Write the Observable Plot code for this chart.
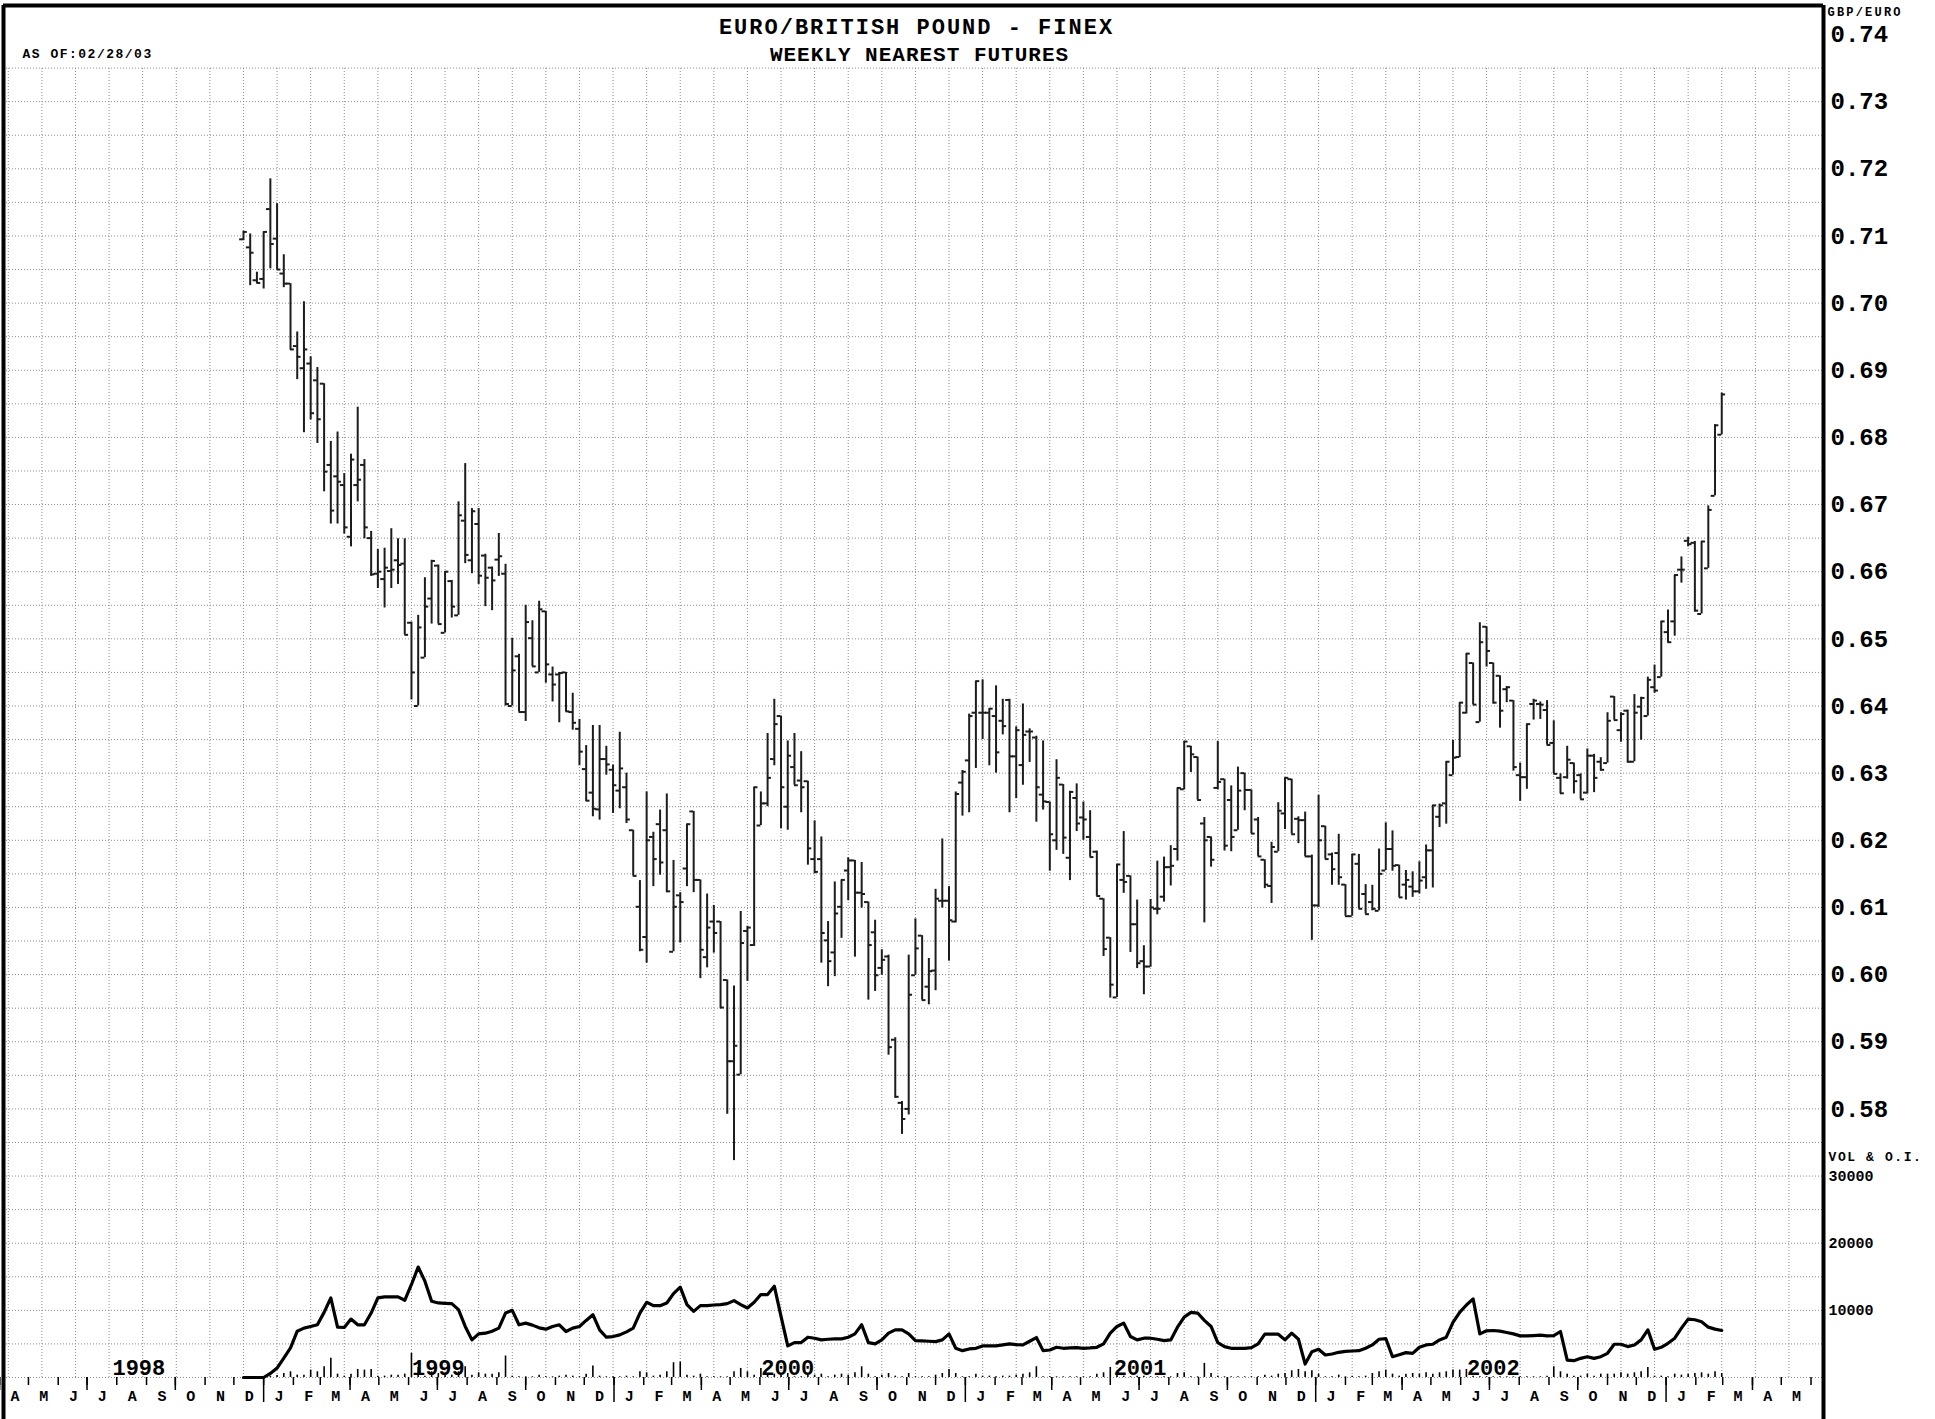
<!DOCTYPE html>
<html>
<head>
<meta charset="utf-8">
<script src="https://cdn.jsdelivr.net/npm/d3@7"></script>
<script src="https://cdn.jsdelivr.net/npm/@observablehq/plot@0.6"></script>
<style>
html, body { margin: 0; padding: 0; background: #fff; }
#chart { width: 1935px; height: 1419px; overflow: hidden; }
</style>
</head>
<body>
<div id="chart"></div>
<script>
// ---------------- DATA ----------------
const title = "EURO/BRITISH POUND - FINEX";
const subtitle = "WEEKLY NEAREST FUTURES";
const asOf = "AS OF:02/28/03";
const unitLabel = "GBP/EURO";
const volLabel = "VOL & O.I.";
const firstWeek = "1998-12-11";   // first weekly bar (Fridays)

const open = [.7095,.7083,.7034,.7036,.7140,.7096,.7044,.7029,.6936,.6903,
.6910,.6885,.6880,.6759,.6742,.6729,.6652,.6729,.6759,.6650,
.6597,.6589,.6601,.6617,.6612,.6524,.6400,.6472,.6560,.6609,
.6509,.6586,.6535,.6676,.6617,.6671,.6624,.6606,.6618,.6597,
.6400,.6474,.6391,.6501,.6450,.6541,.6447,.6447,.6450,.6391,
.6366,.6306,.6271,.6246,.6321,.6305,.6274,.6279,.6215,.6101,
.6056,.6205,.6224,.6215,.6034,.6118,.6158,.6243,.6141,.6026,
.6079,.6079,.5992,.5871,.5851,.6065,.6044,.6222,.6255,.6321,
.6385,.6250,.6309,.6289,.6288,.6172,.6172,.6051,.6033,.6101,
.6155,.6170,.6122,.6108,.6063,.6010,.6027,.5903,.5809,.5800,
.5999,.6058,.5982,.6006,.6110,.6110,.6079,.6286,.6319,.6390,
.6390,.6390,.6385,.6378,.6409,.6325,.6312,.6362,.6353,.6268,
.6257,.6200,.6283,.6174,.6263,.6234,.6205,.6183,.6113,.6055,
.5966,.6141,.6147,.6075,.6020,.6012,.6098,.6116,.6160,.6187,
.6276,.6340,.6324,.6225,.6205,.6278,.6291,.6260,.6215,.6300,
.6275,.6231,.6171,.6132,.6183,.6240,.6291,.6232,.6230,.6176,
.6103,.6221,.6179,.6181,.6134,.6087,.6165,.6120,.6108,.6095,
.6155,.6187,.6163,.6134,.6131,.6124,.6145,.6185,.6235,.6255,
.6297,.6324,.6390,.6464,.6376,.6518,.6464,.6445,.6425,.6408,
.6297,.6294,.6403,.6403,.6394,.6345,.6293,.6294,.6315,.6297,
.6271,.6326,.6317,.6315,.6414,.6364,.6393,.6317,.6399,.6385,
.6428,.6443,.6510,.6526,.6603,.6646,.6643,.6537,.6605,.6713,
.6804];

const high = [.7107,.7103,.7046,.7106,.7185,.7148,.7072,.7029,.6957,.7002,
.6920,.6904,.6880,.6794,.6808,.6746,.6775,.6845,.6767,.6660,
.6633,.6635,.6664,.6649,.6649,.6525,.6535,.6591,.6617,.6610,
.6600,.6587,.6704,.6761,.6694,.6694,.6626,.6607,.6657,.6611,
.6501,.6477,.6550,.6527,.6556,.6541,.6458,.6450,.6450,.6419,
.6380,.6341,.6371,.6371,.6340,.6312,.6361,.6300,.6215,.6140,
.6272,.6212,.6245,.6269,.6170,.6122,.6224,.6243,.6141,.6120,
.6103,.6079,.5992,.5983,.6094,.6072,.6279,.6272,.6359,.6410,
.6385,.6348,.6359,.6332,.6288,.6229,.6205,.6079,.6138,.6141,
.6174,.6170,.6167,.6108,.6081,.6037,.6029,.5906,.5811,.6029,
.6083,.6058,.6024,.6127,.6202,.6131,.6272,.6304,.6388,.6437,
.6439,.6396,.6430,.6410,.6410,.6369,.6403,.6366,.6355,.6348,
.6257,.6320,.6283,.6273,.6284,.6257,.6244,.6184,.6113,.6055,
.6164,.6213,.6147,.6111,.6043,.6112,.6169,.6175,.6192,.6278,
.6347,.6340,.6324,.6234,.6205,.6347,.6291,.6281,.6309,.6300,
.6275,.6234,.6171,.6197,.6256,.6293,.6291,.6235,.6242,.6178,
.6267,.6221,.6181,.6209,.6134,.6179,.6179,.6134,.6133,.6187,
.6226,.6214,.6163,.6155,.6153,.6168,.6193,.6252,.6254,.6317,
.6349,.6405,.6478,.6464,.6524,.6518,.6464,.6445,.6429,.6408,
.6315,.6373,.6410,.6406,.6408,.6378,.6299,.6340,.6315,.6299,
.6336,.6328,.6323,.6390,.6414,.6390,.6394,.6417,.6413,.6443,
.6461,.6526,.6543,.6595,.6622,.6651,.6645,.6645,.6698,.6819,
.6866];

const low = [.7093,.7026,.7029,.7021,.7051,.7050,.7023,.6930,.6886,.6807,
.6826,.6791,.6719,.6671,.6671,.6656,.6637,.6704,.6649,.6593,
.6575,.6546,.6575,.6581,.6506,.6409,.6400,.6472,.6522,.6522,
.6509,.6531,.6535,.6612,.6597,.6581,.6548,.6542,.6593,.6400,
.6400,.6391,.6377,.6459,.6450,.6434,.6406,.6375,.6391,.6364,
.6311,.6258,.6235,.6230,.6297,.6240,.6247,.6225,.6147,.6034,
.6017,.6131,.6148,.6122,.6034,.6047,.6131,.6122,.5994,.6010,
.6032,.5949,.5792,.5723,.5851,.5990,.6042,.6222,.6250,.6311,
.6217,.6215,.6282,.6241,.6163,.6150,.6017,.5982,.5997,.6054,
.6110,.6026,.6099,.5962,.5975,.5999,.5880,.5816,.5762,.5791,
.5999,.5962,.5955,.5976,.6099,.6020,.6077,.6236,.6241,.6307,
.6350,.6311,.6300,.6357,.6241,.6262,.6282,.6316,.6227,.6245,
.6154,.6185,.6179,.6140,.6213,.6200,.6175,.6117,.6027,.5965,
.5966,.6121,.6033,.6009,.5970,.6011,.6089,.6108,.6132,.6169,
.6275,.6301,.6260,.6077,.6160,.6275,.6184,.6183,.6215,.6244,
.6210,.6176,.6128,.6106,.6183,.6216,.6209,.6195,.6176,.6051,
.6100,.6172,.6133,.6133,.6087,.6087,.6098,.6090,.6095,.6095,
.6155,.6154,.6115,.6111,.6115,.6120,.6127,.6129,.6219,.6224,
.6297,.6323,.6388,.6402,.6376,.6458,.6403,.6367,.6405,.6303,
.6258,.6276,.6379,.6380,.6342,.6299,.6269,.6291,.6269,.6261,
.6269,.6271,.6303,.6315,.6379,.6346,.6315,.6317,.6349,.6385,
.6419,.6443,.6494,.6504,.6583,.6637,.6540,.6537,.6605,.6713,
.6804];

const close = [.7106,.7075,.7030,.7106,.7088,.7050,.7029,.6931,.6920,.6931,
.6836,.6827,.6749,.6691,.6734,.6666,.6767,.6737,.6666,.6596,
.6600,.6606,.6603,.6610,.6506,.6450,.6517,.6548,.6616,.6522,
.6600,.6548,.6684,.6625,.6690,.6594,.6591,.6587,.6623,.6403,
.6453,.6391,.6525,.6459,.6544,.6462,.6432,.6449,.6392,.6375,
.6332,.6259,.6247,.6321,.6313,.6282,.6307,.6231,.6147,.6037,
.6200,.6172,.6167,.6124,.6101,.6108,.6224,.6141,.6037,.6070,
.6062,.5951,.5871,.5894,.6047,.6070,.6279,.6255,.6293,.6373,
.6279,.6326,.6282,.6279,.6188,.6153,.6062,.6020,.6091,.6141,
.6170,.6122,.6120,.6044,.5999,.6022,.5892,.5818,.5785,.5970,
.6039,.5962,.6005,.6113,.6110,.6081,.6269,.6302,.6385,.6437,
.6390,.6396,.6331,.6370,.6325,.6364,.6357,.6362,.6279,.6258,
.6209,.6293,.6204,.6272,.6225,.6231,.6175,.6117,.6038,.5985,
.6164,.6138,.6075,.6017,.6012,.6100,.6098,.6160,.6162,.6278,
.6347,.6328,.6260,.6200,.6171,.6287,.6192,.6205,.6274,.6275,
.6210,.6176,.6134,.6190,.6244,.6293,.6209,.6230,.6176,.6103,
.6200,.6172,.6157,.6145,.6087,.6179,.6098,.6090,.6098,.6150,
.6187,.6162,.6115,.6141,.6124,.6140,.6185,.6252,.6252,.6317,
.6323,.6405,.6478,.6402,.6495,.6482,.6405,.6393,.6428,.6309,
.6294,.6373,.6408,.6402,.6342,.6299,.6270,.6320,.6288,.6261,
.6326,.6293,.6305,.6378,.6379,.6388,.6317,.6390,.6412,.6439,
.6423,.6526,.6495,.6595,.6603,.6641,.6542,.6645,.6692,.6818,
.6864];

const openInterest = [0,0,0,0,600,1400,2900,4400,6900,7350,
7600,7850,9700,11850,7500,7450,8700,7850,7850,9600,
11850,12000,12000,12000,11500,13850,16450,14350,11350,11100,
11050,11000,10100,7600,5600,6500,6600,6900,7350,9600,
10000,7850,8100,7800,7400,7200,7600,7850,6850,7350,
7600,8500,9350,7100,6000,6100,6350,6800,7350,9600,
11200,10700,10700,11100,12500,13450,10850,9850,10700,10700,
10800,10850,11000,11450,10850,10350,11200,12350,12350,13600,
9100,4700,5200,5200,6000,5850,5600,5700,5750,5750,
6000,6500,7850,5200,5000,5600,6600,7100,7100,6500,
5500,5450,5400,5350,5600,6500,4350,4000,4250,4350,
4700,4700,4700,4850,5000,4900,4850,5400,5950,4000,
4100,4500,4350,4400,4450,4350,4400,4500,5000,6600,
7600,8100,6100,5600,5850,5850,5700,5500,5600,7500,
9000,9700,9600,8500,7600,5200,4600,4350,4350,4350,
4450,5000,6450,6450,6450,5600,6600,5700,2000,3850,
4200,3350,3500,3750,3900,3950,4000,4350,4850,5700,
5800,3100,3400,3700,3600,4500,4850,4950,5600,6000,
8200,9700,10800,11700,6500,6950,7000,6900,6700,6500,
6200,6200,6250,6300,6200,6250,6850,2600,2500,2850,
3100,2850,3100,3600,4950,4950,4600,4850,5600,7100,
4200,4500,5100,5850,7350,8700,8600,8300,7500,7200,
7000];

const volume = [0,0,0,100,200,300,600,850,350,350,
1100,850,1600,2850,500,200,500,1200,1100,1200,
200,200,350,350,500,3600,1500,200,850,600,
500,350,850,1600,350,700,500,500,700,3200,
200,100,100,100,350,100,100,200,350,200,
100,500,1700,200,100,100,100,200,100,850,
700,200,350,850,2200,2300,350,200,500,100,
100,100,100,850,1350,850,350,1350,400,500,
300,600,100,100,350,350,500,100,350,500,
350,700,1600,500,100,350,600,200,100,600,
100,100,100,350,600,1200,600,100,100,500,
200,200,100,200,200,350,500,700,1600,100,
100,100,100,100,100,100,100,500,700,1500,
600,200,100,200,200,100,100,100,100,600,
700,100,100,2100,600,200,100,100,100,100,
100,100,350,200,500,600,1000,1200,850,1000,
500,100,100,350,100,200,100,200,600,850,
1100,500,200,500,600,500,700,500,700,850,
1100,1100,1200,200,100,100,100,100,100,100,
100,100,100,100,200,1600,850,500,200,200,
500,200,500,500,500,700,500,700,850,1500,
200,200,100,500,350,500,600,700,500,850,
600];

const priceTicks = [0.58,0.59,0.60,0.61,0.62,0.63,0.64,0.65,0.66,0.67,0.68,0.69,0.70,0.71,0.72,0.73,0.74];
const volumeTicks = [10000, 20000, 30000];
const yearLabels = ["1998", "1999", "2000", "2001", "2002"];
const yearLabelDates = ["1998-08-24", "1999-07-02", "2000-06-30", "2001-07-02", "2002-07-05"];
const monthInitials = ["J","F","M","A","M","J","J","A","S","O","N","D"];

// ---------------- BUILD ----------------
const t0 = new Date(firstWeek + "T00:00:00Z");
const bars = open.map((o, i) => ({
  date: d3.utcDay.offset(t0, 7 * i),
  open: o, high: high[i], low: low[i], close: close[i],
  oi: openInterest[i], vol: volume[i]
}));

// the price scale also carries the volume / open-interest panel:
// 0 contracts sits on 0.54 and 10000 contracts equal 0.01
const volBase = 0.54;
const volToY = v => volBase + v / 1e6;

const xDomain = [new Date("1998-04-05T00:00:00Z"), new Date("2003-06-14T00:00:00Z")];
const H = 1419, W = 1935, mTop = 5, mBottom = 42, mLeft = 3, mRight = 112;
const y074px = 34; // pixel row of the 0.74 label
const yTop = 0.54 + 0.2 * ((H - mBottom) - mTop) / ((H - mBottom) - y074px);

const gridPrices = d3.range(108, 148).map(k => +(k * 0.005).toFixed(3));
const gridDates = d3.range(-7, 48).map(k => d3.utcDay.offset(t0, 35 * k));

const months = d3.utcMonth.range(new Date("1998-04-01T00:00:00Z"), new Date("2003-06-02T00:00:00Z"));
const monthMids = months.filter(d => d < new Date("2003-06-01T00:00:00Z")).map(d => d3.utcDay.offset(d, 16));
const quarterStarts = months.filter(d => d.getUTCMonth() % 3 === 0 && d.getUTCMonth() !== 0);
const yearStarts = months.filter(d => d.getUTCMonth() === 0);

const fontFamily = "'Liberation Mono','Courier New',Courier,monospace";
const grid = {stroke: "#8c8c8c", strokeWidth: 1, strokeDasharray: "1,2"};
const barStroke = "#1c1c1c";
const tickLen = 96; // hours

const svg = Plot.plot({
  width: W, height: H,
  marginTop: mTop, marginBottom: mBottom, marginLeft: mLeft, marginRight: mRight,
  style: {fontFamily, fontWeight: "bold", background: "white", color: "black"},
  x: {type: "utc", domain: xDomain, label: null},
  y: {domain: [volBase, yTop], label: null},
  marks: [
    // grid
    Plot.ruleY(gridPrices, grid),
    Plot.ruleX(gridDates, {y1: volBase, y2: 0.735, ...grid}),
    // volume histogram
    Plot.ruleX(bars.filter(d => d.vol > 0), {x: "date", y1: volBase, y2: d => volToY(d.vol), stroke: "black", strokeWidth: 1.6}),
    // open interest line
    Plot.line(bars, {x: "date", y: d => volToY(d.oi), stroke: "black", strokeWidth: 3.2, strokeLinejoin: "round"}),
    // OHLC bars
    Plot.ruleX(bars, {x: "date", y1: "low", y2: "high", stroke: barStroke, strokeWidth: 2}),
    Plot.ruleY(bars, {y: "open", x1: d => d3.utcHour.offset(d.date, -tickLen), x2: "date", stroke: barStroke, strokeWidth: 2}),
    Plot.ruleY(bars, {y: "close", x1: "date", x2: d => d3.utcHour.offset(d.date, tickLen), stroke: barStroke, strokeWidth: 2}),
    // right axis: prices
    Plot.axisY({anchor: "right", ticks: priceTicks, tickSize: 0, tickPadding: 7, tickFormat: d3.format(".2f"), fontSize: 24, label: null}),
    // right axis: volume & open interest
    Plot.axisY({anchor: "right", ticks: volumeTicks.map(volToY), tickSize: 0, tickPadding: 5,
      tickFormat: y => String(Math.round((y - volBase) * 1e6)), fontSize: 15, label: null}),
    // bottom axis ticks
    Plot.axisX({anchor: "bottom", ticks: months, tickSize: 8, tickPadding: 0, tickFormat: () => "", strokeWidth: 1.5, label: null}),
    Plot.axisX({anchor: "bottom", ticks: quarterStarts, tickSize: 13, tickPadding: 0, tickFormat: () => "", strokeWidth: 1.5, label: null}),
    Plot.axisX({anchor: "bottom", ticks: yearStarts, tickSize: 25, tickPadding: 0, tickFormat: () => "", strokeWidth: 1.5, label: null}),
    Plot.axisX({anchor: "bottom", ticks: monthMids, tickSize: 0, tickPadding: 13, tickFormat: d => monthInitials[d.getUTCMonth()], fontSize: 15, label: null}),
    // year labels
    Plot.text(yearLabels, {x: (d, i) => new Date(yearLabelDates[i] + "T00:00:00Z"), y: volBase, dy: -10, text: d => d, fontSize: 22, fill: "black"}),
    // titles and labels
    Plot.text([title], {frameAnchor: "top", lineAnchor: "middle", dx: 3, dy: 21, fontSize: 22}),
    Plot.text([subtitle], {frameAnchor: "top", lineAnchor: "middle", dx: 6, dy: 49, fontSize: 21}),
    Plot.text([asOf], {frameAnchor: "top-left", lineAnchor: "middle", dx: 19, dy: 48, textAnchor: "start", fontSize: 13}),
    Plot.text([unitLabel], {frameAnchor: "top-right", lineAnchor: "middle", dx: 4, dy: 7, textAnchor: "start", fontSize: 12}),
    Plot.text([volLabel], {frameAnchor: "right", y: () => volToY(32900), dx: 5, textAnchor: "start", fontSize: 13}),
    // border
    Plot.ruleX(xDomain, {y1: yTop, y2: 0.52, stroke: "black", strokeWidth: 4}),
    Plot.ruleY([yTop], {stroke: "black", strokeWidth: 4})
  ]
});

const spacing = new Map([[title, "2px"], [subtitle, "1px"], [asOf, "1.5px"], [unitLabel, "2.2px"], [volLabel, "1.6px"]]);
d3.select(svg).selectAll("text").each(function () {
  const s = spacing.get(this.textContent);
  if (s) this.style.letterSpacing = s;
});
document.getElementById("chart").appendChild(svg);
</script>
</body>
</html>
